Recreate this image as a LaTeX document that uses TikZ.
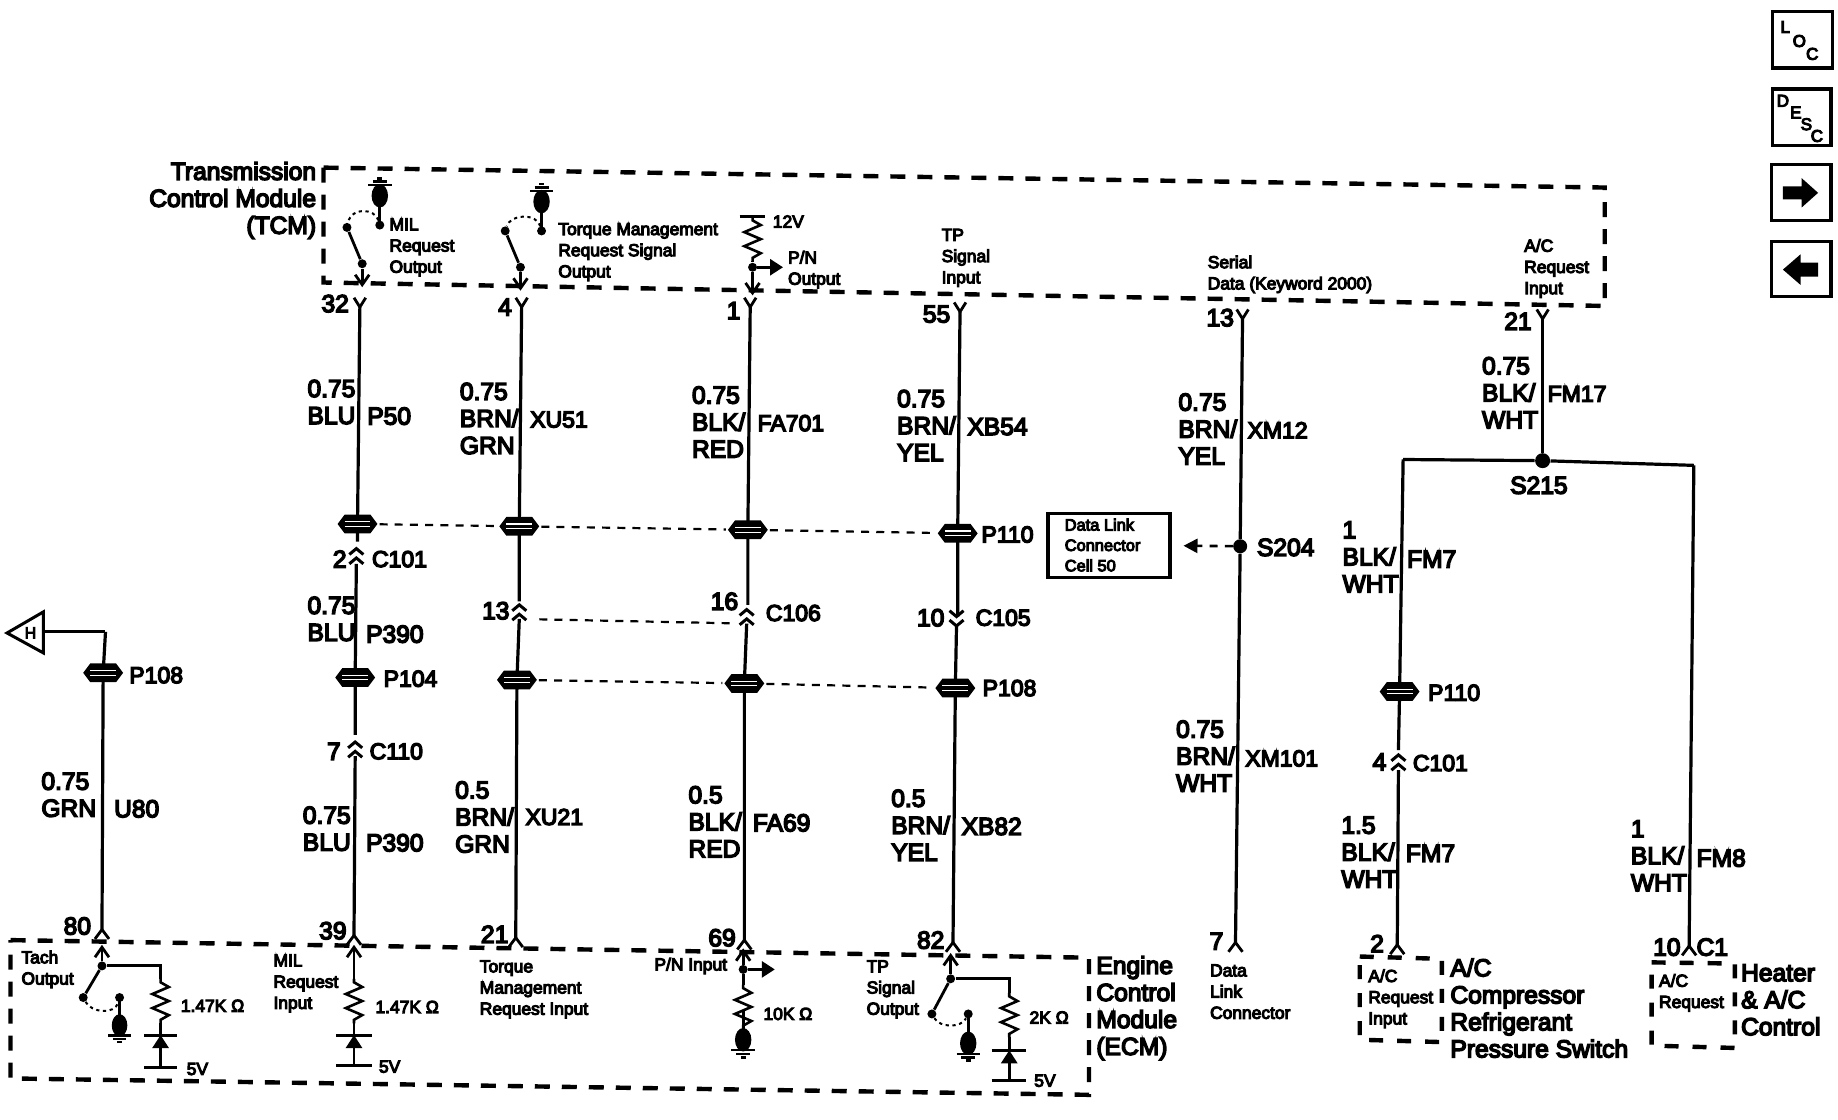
\documentclass[tikz,border=0pt]{standalone}
\usepackage{fontspec}
\setmainfont[FakeBold=6]{Liberation Sans}
\usetikzlibrary{arrows.meta}
\tikzset{
  big/.style={font=\fontsize{12.3}{13.5}\selectfont,inner sep=0pt,align=left,anchor=west},
  bign/.style={font=\fontsize{11.5}{13.5}\selectfont,inner sep=0pt,align=left,anchor=west},
  bigr/.style={font=\fontsize{12.3}{13.5}\selectfont,inner sep=0pt,align=right,anchor=east},
  small/.style={font=\fontsize{8.7}{10.6}\selectfont,inner sep=0pt,align=left,anchor=west},
  wire/.style={line width=1.6pt,line join=miter},
  modbox/.style={line width=2.2pt,dash pattern=on 7.5pt off 6pt},
  tiedash/.style={line width=1.1pt,dash pattern=on 4pt off 3.6pt},
  dotarc/.style={line width=1pt,dash pattern=on 1.6pt off 1.8pt},
  bigdot/.style={circle,fill=black,inner sep=0pt,minimum size=8pt},
  pindot/.style={circle,fill=black,inner sep=0pt,minimum size=4.5pt},
  openarrow/.style={-{Straight Barb[length=5pt,width=7pt]},line width=1.4pt},
  fillarrow/.style={-{Triangle[length=6.5pt,width=8pt]},line width=1.4pt},
  iconbox/.style={draw,line width=1.6pt,fill=white},
  iconletter/.style={font=\fontsize{8.5}{9}\selectfont,inner sep=0pt},
  splicemark/.pic={
    \fill (-17,0)--(-11,-8)--(11,-8)--(17,0)--(11,8)--(-11,8)--cycle;
    \draw[white,line width=.55pt] (-11,-2)--(11,-2) (-11,2)--(11,2);
  },
  pintop/.pic={\draw[line width=1.4pt] (-5,-8)--(0,0)--(5,-8);},
  pinbot/.pic={\draw[line width=1.4pt] (-6,8)--(0,0)--(6,8);},
  chevup/.pic={\draw[line width=1.5pt] (-6,5)--(0,0)--(6,5) (-6,-3)--(0,-8)--(6,-3);},
  chevdown/.pic={\draw[line width=1.5pt] (-6,-5)--(0,0)--(6,-5) (-6,3)--(0,8)--(6,3);},
  resistor/.pic={\draw[line width=1.3pt,line join=miter] (0,0)--(0,3)--(7,7)--(-7,13)--(7,19)--(-7,25)--(7,31)--(0,35)--(0,38);},
  groundmark/.pic={
    \draw[line width=1.4pt] (0,0)--(0,25);
    \fill (0,25) ellipse (7 and 10);
    \draw[line width=1.2pt] (-10,34)--(10,34) (-6,37)--(6,37);
    \draw[line width=1.4pt] (-2,40)--(2,40);
  },
}
\begin{document}
\begin{tikzpicture}[x=0.5861pt,y=-0.5861pt]
\useasboundingbox (0,0) rectangle (1568,955.43);

% module outlines
\coordinate (tcmTL) at (276,143); \coordinate (tcmTR) at (1369,160);
\coordinate (tcmBR) at (1369,261); \coordinate (tcmBL) at (276,241);
\draw[modbox] (tcmTL)--(tcmTR)--(tcmBR)--(tcmBL)--cycle;
\coordinate (ecmTL) at (9,802); \coordinate (ecmTR) at (929,817);
\coordinate (ecmBR) at (929,934); \coordinate (ecmBL) at (9,920);
\draw[modbox] (ecmTL)--(ecmTR)--(ecmBR)--(ecmBL)--cycle;
\coordinate (acTL) at (1160,816); \coordinate (acTR) at (1230,818);
\coordinate (acBR) at (1230,889); \coordinate (acBL) at (1160,887);
\draw[modbox,dash pattern=on 7pt off 7pt] (acTL)--(acTR)--(acBR)--(acBL)--cycle;
\coordinate (htTL) at (1409,821); \coordinate (htTR) at (1480,822);
\coordinate (htBR) at (1480,894); \coordinate (htBL) at (1409,892);
\draw[modbox,dash pattern=on 7pt off 7pt] (htTL)--(htTR)--(htBR)--(htBL)--cycle;

% wire points
\coordinate (w1a) at (307,262); \coordinate (w1b) at (305,447); \coordinate (w1c) at (305,462);
\coordinate (w1d) at (304,481); \coordinate (w1e) at (303,578); \coordinate (w1f) at (303,627);
\coordinate (w1g) at (303,645); \coordinate (w1h) at (302,798);
\coordinate (w2a) at (445,262); \coordinate (w2b) at (443,449); \coordinate (w2c) at (443,513);
\coordinate (w2d) at (443,528); \coordinate (w2e) at (441,580); \coordinate (w2f) at (440,800);
\coordinate (w3a) at (640,262); \coordinate (w3b) at (638,452); \coordinate (w3c) at (638,516);
\coordinate (w3d) at (637,532); \coordinate (w3e) at (635,583); \coordinate (w3f) at (635,802);
\coordinate (w4a) at (819,266); \coordinate (w4b) at (817,455); \coordinate (w4c) at (817,526);
\coordinate (w4d) at (816,534); \coordinate (w4e) at (815,587); \coordinate (w4f) at (813,804);
\coordinate (w5a) at (1060,272); \coordinate (w5c) at (1054,804);
\coordinate (w6a) at (1316,272);
\coordinate (j1) at (1197,392); \coordinate (j2) at (1445,397);
\coordinate (w7b) at (1194,590); \coordinate (w7c) at (1193,640); \coordinate (w7d) at (1193,657); \coordinate (w7e) at (1192,806);
\coordinate (w8e) at (1441,807);
\coordinate (w0a) at (90,539); \coordinate (w0b) at (88,574); \coordinate (w0c) at (87,793);

\node[bigdot,minimum size=7.5pt] (s215) at (1316,393) {};
\node[bigdot,minimum size=7pt] (s204) at (1058,466) {};

\draw[wire] (w1a)--(w1b)--(w1c) (w1d)--(w1e)--(w1f) (w1g)--(w1h);
\draw[wire] (w2a)--(w2b)--(w2c) (w2d)--(w2e)--(w2f);
\draw[wire] (w3a)--(w3b)--(w3c) (w3d)--(w3e)--(w3f);
\draw[wire] (w4a)--(w4b)--(w4c) (w4d)--(w4e)--(w4f);
\draw[wire] (w5a)--(s204)--(w5c);
\draw[wire] (w6a)--(s215);
\draw[wire] (j1)--(s215)--(j2);
\draw[wire] (j1)--(w7b)--(w7c) (w7d)--(w7e);
\draw[wire] (j2)--(w8e);
\draw[wire] (w0c)--(w0b)--(w0a);

% off-page reference
\coordinate (triT) at (37,522); \coordinate (triB) at (37,557); \coordinate (triL) at (6,540);
\draw[line width=1.5pt,line join=miter] (triT)--(triL)--(triB)--cycle;
\node[font=\fontsize{8}{8}\selectfont,inner sep=0pt] (hmark) at (26,540) {H};
\draw[wire] (w0a)--(37,539);

% pins
\path (w1a) pic{pintop} (w2a) pic{pintop} (w3a) pic{pintop} (w4a) pic{pintop} (w5a) pic{pintop} (w6a) pic{pintop};
\path (w0c) pic{pinbot} (w1h) pic{pinbot} (w2f) pic{pinbot} (w3f) pic{pinbot} (w4f) pic{pinbot} (w5c) pic{pinbot} (w7e) pic{pinbot} (w8e) pic{pinbot};

% inline connectors
\path (304,476) pic{chevup} (443,524) pic{chevup} (637,528) pic{chevup} (303,641) pic{chevup} (1193,652) pic{chevup};
\path (816,526) pic{chevdown};

% shield ties
\draw[tiedash,shorten <=11pt,shorten >=11pt] (w1b)--(w2b);
\draw[tiedash,shorten <=11pt,shorten >=11pt] (w2b)--(w3b);
\draw[tiedash,shorten <=11pt,shorten >=11pt] (w3b)--(w4b);
\draw[tiedash,shorten <=11pt,shorten >=11pt] (w2e)--(w3e);
\draw[tiedash,shorten <=11pt,shorten >=11pt] (w3e)--(w4e);
\draw[tiedash,shorten <=10pt,shorten >=5pt] (w2d)--(w3d);

% splices
\path (w1b) pic{splicemark} (w2b) pic{splicemark} (w3b) pic{splicemark} (w4b) pic{splicemark};
\path (w1e) pic{splicemark} (w2e) pic{splicemark} (w3e) pic{splicemark} (w4e) pic{splicemark};
\path (w7b) pic{splicemark} (w0b) pic{splicemark};

% data link box
\node[draw,line width=1.6pt,minimum width=61pt,minimum height=32pt,inner sep=0pt] (dlc) at (946,465.5) {};
\node[small,font=\fontsize{8.2}{10.2}\selectfont] (dlct) at (908,465) {Data Link\\Connector\\Cell 50};
\draw[tiedash,-{Triangle[length=7pt,width=7pt]},line width=1.3pt,shorten >=6pt] (s204)--(dlc.east) ;

% TCM internals
\path (324,192) pic[yscale=-1]{groundmark};
\node[pindot] (mA) at (324,192) {};
\node[pindot] (mB) at (296,194) {};
\node[pindot] (mC) at (309,225) {};
\coordinate (mD) at (309,245);
\draw[dotarc] (mA) .. controls (320,178) and (300,176) .. (mB);
\draw[line width=1.4pt] (mB)--(mC);
\draw[openarrow] (mC)--(mD);

\path (462,197) pic[yscale=-1]{groundmark};
\node[pindot] (tA) at (462,197) {};
\node[pindot] (tB) at (431,197) {};
\node[pindot] (tC) at (444,228) {};
\coordinate (tD) at (444,248);
\draw[dotarc] (tA) .. controls (458,182) and (436,182) .. (tB);
\draw[line width=1.4pt] (tB)--(tC);
\draw[openarrow] (tC)--(tD);

\coordinate (vL) at (631,185); \coordinate (vR) at (653,185); \coordinate (vM) at (642,185);
\draw[line width=1.4pt] (vL)--(vR);
\path (vM) pic{resistor};
\node[pindot] (pJ) at (642,228) {};
\coordinate (pK) at (642,252); \coordinate (pO) at (668,228);
\draw[line width=1.3pt] (642,223)--(pJ);
\draw[openarrow] (pJ)--(pK);
\draw[fillarrow] (pJ)--(pO);

% ECM internals: tach
\coordinate (aT) at (87,806); \node[pindot] (aJ) at (87,824) {}; \coordinate (aR) at (137,824);
\node[pindot] (aS) at (71,851) {}; \node[pindot] (aG) at (102,851) {};
\draw[openarrow] (aJ)--(aT);
\draw[line width=1.4pt] (aJ)--(aR)--(137,835);
\draw[line width=1.4pt] (aJ)--(aS);
\draw[dotarc] (aS) .. controls (78,864) and (98,866) .. (aG);
\path (aG) pic[scale=0.95]{groundmark};
\path (137,835) pic{resistor};
\coordinate (aB1) at (137,883); \coordinate (aB2) at (137,911);
\draw[line width=1.4pt] (137,873)--(aB1);
\draw[line width=1.5pt] (123,883)--(151,883) (123,911)--(151,911);
\draw[fillarrow] (aB2)--(aB1);

% ECM internals: MIL input
\coordinate (bT) at (302,806); \coordinate (bR) at (302,835);
\draw[openarrow] (bR)--(bT);
\path (bR) pic{resistor};
\coordinate (bB1) at (302,883); \coordinate (bB2) at (302,909);
\draw[line width=1.4pt] (302,873)--(bB1);
\draw[line width=1.5pt] (287,883)--(317,883) (287,909)--(317,909);
\draw[fillarrow] (bB2)--(bB1);

% ECM internals: P/N input
\coordinate (cT) at (634,809); \node[pindot] (cJ) at (634,827) {}; \coordinate (cO) at (661,827);
\draw[openarrow] (cJ)--(cT);
\draw[fillarrow] (cJ)--(cO);
\draw[line width=1.4pt] (cJ)--(634,840);
\path (634,840) pic{resistor};
\draw[line width=1.4pt] (634,876)--(634,886);
\path (634,862) pic{groundmark};

% ECM internals: TP output
\coordinate (dT) at (811,813); \node[pindot] (dJ) at (811,835) {}; \coordinate (dR) at (861,835);
\node[pindot] (dS) at (795,865) {}; \node[pindot] (dG) at (826,865) {};
\draw[openarrow] (dJ)--(dT);
\draw[line width=1.4pt] (dJ)--(dR)--(861,847);
\draw[line width=1.4pt] (dJ)--(dS);
\draw[dotarc] (dS) .. controls (802,877) and (820,877) .. (dG);
\path (dG) pic{groundmark};
\path (861,847) pic{resistor};
\coordinate (dB1) at (861,896); \coordinate (dB2) at (861,922);
\draw[line width=1.4pt] (861,885)--(dB1);
\draw[line width=1.5pt] (846,896)--(875,896) (846,922)--(875,922);
\draw[fillarrow] (dB2)--(dB1);

% module names
\node[bigr] (ntcm) at (270,171) {Transmission\\Control Module\\(TCM)};
\node[big] (necm) at (935,860) {Engine\\Control\\Module\\(ECM)};
\node[big] (nac) at (1237,860) {A/C\\Compressor\\Refrigerant\\Pressure Switch};
\node[big] (nht) at (1485,853) {Heater\\\& A/C\\Control};

% small circuit labels
\node[small] (t1) at (332,211) {MIL\\Request\\Output};
\node[small] (t2) at (476,215) {Torque Management\\Request Signal\\Output};
\node[small] (t3) at (659,189) {12V};
\node[small] (t4) at (672,230) {P/N\\Output};
\node[small] (t5) at (803,220) {TP\\Signal\\Input};
\node[small] (t6) at (1030,234) {Serial\\Data (Keyword 2000)};
\node[small] (t7) at (1300,229) {A/C\\Request\\Input};
\node[small] (b1) at (18,827) {Tach\\Output};
\node[small] (b2) at (154,858) {1.47K  Ω};
\node[small] (b3) at (159,912) {5V};
\node[small] (b4) at (233,839) {MIL\\Request\\Input};
\node[small] (b5) at (320,859) {1.47K Ω};
\node[small] (b6) at (323,910) {5V};
\node[small] (b7) at (409,844) {Torque\\Management\\Request Input};
\node[small] (b8) at (558,824) {P/N Input};
\node[small] (b9) at (651,865) {10K Ω};
\node[small] (b10) at (739,844) {TP\\Signal\\Output};
\node[small] (b11) at (878,868) {2K Ω};
\node[small] (b12) at (882,922) {5V};
\node[small] (b13) at (1032,846) {Data\\Link\\Connector};
\node[small] (b14) at (1167,852) {A/C\\Request\\Input};
\node[small] (b15) at (1415,847) {A/C\\Request};

% pin numbers
\node[bigr] (p32) at (298,259) {32};
\node[bigr] (p4) at (437,262) {4};
\node[bigr] (p1) at (632,265) {1};
\node[bigr] (p55) at (811,268) {55};
\node[bigr] (p13) at (1053,271) {13};
\node[bigr] (p21) at (1307,274) {21};
\node[bigr] (q80) at (78,790) {80};
\node[bigr] (q39) at (296,794) {39};
\node[bigr] (q21) at (434,797) {21};
\node[bigr] (q69) at (628,800) {69};
\node[bigr] (q82) at (806,802) {82};
\node[bigr] (q7) at (1044,803) {7};
\node[bigr] (q2) at (1181,805) {2};
\node[bigr] (q10) at (1434,808) {10};
\node[big] (qc1) at (1447,808) {C1};

% wire labels
\node[big] (l1) at (262,343) {0.75\\BLU};
\node[big] (l1b) at (313,355) {P50};
\node[big] (l2) at (392,357) {0.75\\BRN/\\GRN};
\node[bign] (l2b) at (452,358) {XU51};
\node[big] (l3) at (590,360) {0.75\\BLK/\\RED};
\node[bign] (l3b) at (646,361) {FA701};
\node[big] (l4) at (765,363) {0.75\\BRN/\\YEL};
\node[big] (l4b) at (825,364) {XB54};
\node[big] (l5) at (1005,366) {0.75\\BRN/\\YEL};
\node[bign] (l5b) at (1064,367) {XM12};
\node[big] (l6) at (1264,335) {0.75\\BLK/\\WHT};
\node[bign] (l6b) at (1320,336) {FM17};
\node[big] (l7) at (1288,414) {S215};
\node[big] (l8) at (1145,475) {1\\BLK/\\WHT};
\node[big] (l8b) at (1200,477) {FM7};
\node[bign] (l9) at (837,456) {P110};
\node[big] (l10) at (1072,467) {S204};
\node[bigr] (l11) at (296,477) {2};
\node[bign] (l11b) at (317,477) {C101};
\node[bigr] (l12) at (435,521) {13};
\node[big] (l13) at (606,513) {16};
\node[bign] (l13b) at (653,523) {C106};
\node[bigr] (l14) at (806,527) {10};
\node[bign] (l14b) at (832,527) {C105};
\node[bign] (l15) at (838,587) {P108};
\node[bign] (l16) at (327,579) {P104};
\node[big] (l17) at (262,528) {0.75\\BLU};
\node[big] (l17b) at (312,541) {P390};
\node[bigr] (l18) at (291,641) {7};
\node[bign] (l18b) at (315,641) {C110};
\node[big] (l19) at (258,707) {0.75\\BLU};
\node[big] (l19b) at (312,719) {P390};
\node[big] (l20) at (388,697) {0.5\\BRN/\\GRN};
\node[bign] (l20b) at (448,697) {XU21};
\node[big] (l21) at (587,701) {0.5\\BLK/\\RED};
\node[big] (l21b) at (642,702) {FA69};
\node[big] (l22) at (760,704) {0.5\\BRN/\\YEL};
\node[big] (l22b) at (820,705) {XB82};
\node[big] (l23) at (1003,645) {0.75\\BRN/\\WHT};
\node[bign] (l23b) at (1062,647) {XM101};
\node[bign] (l24) at (1218,591) {P110};
\node[bigr] (l25) at (1183,650) {4};
\node[bign] (l25b) at (1205,651) {C101};
\node[big] (l26) at (1144,727) {1.5\\BLK/\\WHT};
\node[big] (l26b) at (1199,728) {FM7};
\node[big] (l27) at (1391,730) {1\\BLK/\\WHT};
\node[big] (l27b) at (1447,732) {FM8};
\node[big] (l28) at (35,678) {0.75\\GRN};
\node[big] (l28b) at (97,690) {U80};
\node[bign] (l29) at (110,576) {P108};

% side icons
\draw[iconbox] (1512,10) rectangle (1563,58);
\node[iconletter] (iL) at (1523,23) {L};
\node[iconletter] (iO) at (1535,35) {O};
\node[iconletter] (iC) at (1546,46) {C};
\draw[iconbox] (1512,76) rectangle (1562,124);
\node[iconletter] (iD) at (1521,86) {D};
\node[iconletter] (iE) at (1532,96) {E};
\node[iconletter] (iS) at (1541,106) {S};
\node[iconletter] (iC2) at (1550,116) {C};
\draw[iconbox] (1511,140) rectangle (1562,188);
\fill (1521,159)--(1537,159)--(1537,152)--(1551,164.5)--(1537,177)--(1537,170)--(1521,170)--cycle;
\draw[iconbox] (1511,206) rectangle (1562,253);
\fill (1551,224)--(1536,224)--(1536,217)--(1521,230)--(1536,243)--(1536,236)--(1551,236)--cycle;
\end{tikzpicture}
\end{document}
